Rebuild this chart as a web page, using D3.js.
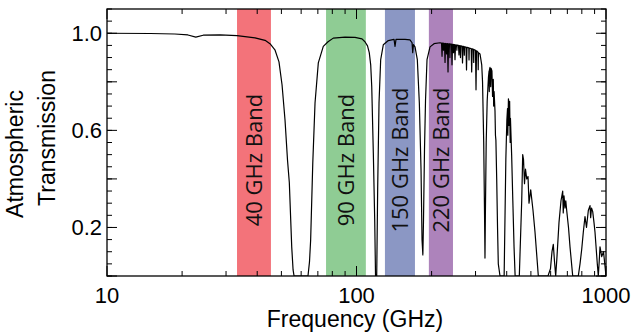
<!DOCTYPE html>
<html>
<head>
<meta charset="utf-8">
<script src="https://cdn.jsdelivr.net/npm/d3@7"></script>
<style>
  body { margin: 0; background: #fff; }
  svg { display: block; }
  text { font-family: "Liberation Sans", Arial, Helvetica, sans-serif; }
  .band-label { font-family: "Open Sans", "Noto Sans", sans-serif; }
</style>
</head>
<body>
<svg id="chart"></svg>
<script>
// atmospheric transmission, frequency in GHz
const freq = [
  10, 14.9, 18.7, 21.1, 22.7, 24.3, 28.4, 33.2, 39.2, 43.0,
  45.0, 47.1, 48.9, 50.3, 51.7, 52.9, 53.8, 55.0, 55.7, 56.2,
  59.4, 63.9, 64.8, 65.5, 66.8, 68.2, 70.3, 73.6, 76.9, 80.7,
  89.9, 98.6, 105.2, 108.1, 110.7, 112.5, 114.0, 115.1, 116.8, 118.3,
  119.2, 120.5, 121.6, 123.1, 125.0, 128.1, 134.1, 141.4, 142.7, 144.0,
  156.5, 163.8, 167.0, 168.0, 169.1, 171.6, 175.3, 178.6, 181.4, 183.1,
  184.5, 185.6, 187.3, 189.1, 191.7, 197.1, 204.5, 216.2,
  219.2, 220.2, 221.2, 222.6, 223.2, 223.8, 225.3, 226.4, 227.4,
  229.0, 229.6, 230.2, 231.6, 232.7, 233.8, 236.2, 236.8, 237.4,
  240.3, 241.4, 242.6, 244.2, 244.8, 245.4, 247.1, 248.2, 249.4,
  251.9, 252.5, 253.1, 256.3, 257.5, 258.7, 260.4, 261.0, 261.6,
  264.8, 266.0, 267.3, 269.9, 270.5, 271.1, 274.8, 276.0, 277.3,
  281.9, 282.5, 283.1, 288.2, 289.5, 290.9, 294.4, 295.0, 295.6,
  299.9, 301.3, 302.7, 306.9, 307.5, 308.1, 312.6,
  317.6, 320.0, 323.5, 326.0, 327.3, 328.5, 331.0, 334.0, 338.0,
  340.0, 340.6, 341.2, 342.8, 345.0, 346.5, 349.0, 351.0, 353.4, 354.6,
  356.0, 359.0, 360.5, 362.0, 364.7, 367.5, 370.1, 376.0, 390.6, 396.8,
  400.5, 403.0, 404.0, 406.4, 408.0, 409.0, 410.9, 413.0, 414.0, 415.5,
  418.6, 423.2, 428.0, 432.3, 449.3,
  459.4, 463.6, 467.1, 471.4, 475.8, 481.1, 486.9, 491.4, 499.2, 509.9,
  519.4, 535.5, 585.4, 599.0, 607.5, 614.9, 621.7, 628.6, 636.2, 648.0,
  660.1, 670.6, 674.0, 678.7, 685.0, 690.0, 695.8, 707.5, 717.4, 735.5, 774.5, 786.8,
  799.2, 811.0, 823.8, 835.3, 849.4, 862.8, 868.0, 874.8, 884.6, 895.2, 903.5,
  922.9, 931.4, 939.2, 946.2, 961.2, 977.3, 990.9, 1000
];
const trans = [
  1.000, 0.999, 0.997, 0.993, 0.984, 0.992, 0.993, 0.990, 0.981, 0.971,
  0.957, 0.932, 0.882, 0.788, 0.643, 0.478, 0.384, 0.120, 0.025, 0.0,
  0.0, 0.0, 0.058, 0.148, 0.466, 0.713, 0.878, 0.946, 0.965, 0.980,
  0.984, 0.983, 0.977, 0.965, 0.948, 0.920, 0.870, 0.781, 0.507, 0.231,
  0.0, 0.0, 0.367, 0.713, 0.891, 0.953, 0.970, 0.975, 0.946, 0.975,
  0.975, 0.973, 0.961, 0.920, 0.953, 0.944, 0.891, 0.713, 0.437, 0.148,
  0.087, 0.231, 0.520, 0.726, 0.891, 0.944, 0.957, 0.961,
  0.960, 0.905, 0.960, 0.959, 0.930, 0.959, 0.958, 0.880, 0.958,
  0.957, 0.915, 0.957, 0.957, 0.841, 0.956, 0.956, 0.900, 0.955,
  0.955, 0.870, 0.954, 0.954, 0.920, 0.953, 0.953, 0.891, 0.952,
  0.951, 0.930, 0.951, 0.950, 0.911, 0.949, 0.948, 0.900, 0.948,
  0.947, 0.878, 0.946, 0.945, 0.910, 0.944, 0.943, 0.849, 0.942,
  0.940, 0.890, 0.939, 0.937, 0.841, 0.936, 0.934, 0.880, 0.933,
  0.930, 0.767, 0.928, 0.922, 0.850, 0.920, 0.915,
  0.870, 0.800, 0.550, 0.250, 0.074, 0.250, 0.550, 0.720, 0.820,
  0.845, 0.760, 0.850, 0.860, 0.780, 0.855, 0.845, 0.740, 0.810, 0.700,
  0.760, 0.680, 0.580, 0.560, 0.400, 0.200, 0.050, 0.0, 0.0, 0.48,
  0.64, 0.69, 0.58, 0.73, 0.71, 0.62, 0.72, 0.55, 0.65, 0.60,
  0.50, 0.31, 0.12, 0.0, 0.0,
  0.31, 0.50, 0.48, 0.38, 0.44, 0.40, 0.41, 0.30, 0.355, 0.27,
  0.18, 0.0, 0.0, 0.03, 0.10, 0.13, 0.06, 0.0, 0.08, 0.22,
  0.31, 0.35, 0.26, 0.33, 0.28, 0.31, 0.27, 0.20, 0.12, 0.0, 0.0, 0.05,
  0.11, 0.18, 0.245, 0.20, 0.27, 0.29, 0.24, 0.28, 0.265, 0.22, 0.18,
  0.05, 0.0, 0.06, 0.12, 0.08, 0.10, 0.04, 0.0
];

const bandNames = ['40 GHz Band', '90 GHz Band', '150 GHz Band', '220 GHz Band'];
const bandLo = [33.2, 75.5, 130, 195];
const bandHi = [45.4, 109, 171.5, 243.6];
const bandColors = ['#f3737a', '#8fcc94', '#8b97c4', '#ad83bb'];

const xTickLabels = [10, 100, 1000];
const yTickLabels = [0.2, 0.6, 1.0];

const width = 634, height = 335;
const margin = {top: 9, right: 28, bottom: 59, left: 107};

const svg = d3.select('#chart')
  .attr('width', width)
  .attr('height', height);

const x = d3.scaleLog()
  .domain([10, 1000])
  .range([margin.left, width - margin.right]);

const y = d3.scaleLinear()
  .domain([0, 1.1])
  .range([height - margin.bottom, margin.top]);

svg.append('clipPath').attr('id', 'plot')
  .append('rect')
  .attr('x', margin.left).attr('y', margin.top)
  .attr('width', width - margin.left - margin.right)
  .attr('height', height - margin.top - margin.bottom);

// bands
bandNames.forEach((name, i) => {
  svg.append('rect')
    .attr('x', x(bandLo[i]))
    .attr('y', margin.top)
    .attr('width', x(bandHi[i]) - x(bandLo[i]))
    .attr('height', height - margin.top - margin.bottom)
    .style('fill', bandColors[i]);
});

// curve
const points = freq.map((f, i) => [f, trans[i]]);
const line = d3.line()
  .x(d => x(d[0]))
  .y(d => y(d[1]));

svg.append('path')
  .datum(points)
  .attr('clip-path', 'url(#plot)')
  .attr('d', line)
  .style('fill', 'none')
  .style('stroke', '#000')
  .style('stroke-width', 1.2)
  .style('stroke-linejoin', 'round');

// band labels
bandNames.forEach((name, i) => {
  const cx = (x(bandLo[i]) + x(bandHi[i])) / 2;
  svg.append('text')
    .attr('class', 'band-label')
    .attr('transform', 'translate(' + cx + ',160) rotate(-90)')
    .attr('text-anchor', 'middle')
    .attr('dy', '0.36em')
    .style('font-size', '22px')
    .style('fill', '#111')
    .text(name);
});

// frame with inward ticks on all four sides
const x0 = margin.left, x1 = width - margin.right;
const y0 = height - margin.bottom, y1 = margin.top;

const xMinor = [];
[10, 100].forEach(dec => { for (let k = 2; k <= 9; k++) xMinor.push(dec * k); });
const yMajor = d3.range(0, 1.1001, 0.2);
const yMinor = d3.range(0, 1.1001, 0.05);

const ticks = svg.append('g').style('stroke', '#000').style('stroke-width', 1);
xMinor.forEach(v => {
  ticks.append('line').attr('x1', x(v)).attr('x2', x(v)).attr('y1', y0).attr('y2', y0 - 5);
  ticks.append('line').attr('x1', x(v)).attr('x2', x(v)).attr('y1', y1).attr('y2', y1 + 5);
});
xTickLabels.forEach(v => {
  ticks.append('line').attr('x1', x(v)).attr('x2', x(v)).attr('y1', y0).attr('y2', y0 - 10);
  ticks.append('line').attr('x1', x(v)).attr('x2', x(v)).attr('y1', y1).attr('y2', y1 + 10);
});
yMinor.forEach(v => {
  ticks.append('line').attr('x1', x0).attr('x2', x0 + 5).attr('y1', y(v)).attr('y2', y(v));
  ticks.append('line').attr('x1', x1).attr('x2', x1 - 5).attr('y1', y(v)).attr('y2', y(v));
});
yMajor.forEach(v => {
  ticks.append('line').attr('x1', x0).attr('x2', x0 + 10).attr('y1', y(v)).attr('y2', y(v));
  ticks.append('line').attr('x1', x1).attr('x2', x1 - 10).attr('y1', y(v)).attr('y2', y(v));
});

svg.append('rect')
  .attr('x', x0).attr('y', y1)
  .attr('width', x1 - x0).attr('height', y0 - y1)
  .style('fill', 'none')
  .style('stroke', '#000')
  .style('stroke-width', 1.3);

// tick labels
xTickLabels.forEach(v => {
  svg.append('text')
    .attr('x', x(v)).attr('y', 303)
    .attr('text-anchor', 'middle')
    .style('font-size', '22px')
    .text(v);
});
yTickLabels.forEach(v => {
  svg.append('text')
    .attr('x', x0 - 5).attr('y', y(v))
    .attr('dy', '0.36em')
    .attr('text-anchor', 'end')
    .style('font-size', '22px')
    .text(v.toFixed(1));
});

// axis titles
svg.append('text')
  .attr('x', 355).attr('y', 327)
  .attr('text-anchor', 'middle')
  .style('font-size', '23px')
  .text('Frequency (GHz)');

svg.append('text')
  .attr('transform', 'translate(23,154) rotate(-90)')
  .attr('text-anchor', 'middle')
  .style('font-size', '23px')
  .text('Atmospheric');

svg.append('text')
  .attr('transform', 'translate(55,138) rotate(-90)')
  .attr('text-anchor', 'middle')
  .style('font-size', '23px')
  .text('Transmission');
</script>
</body>
</html>
